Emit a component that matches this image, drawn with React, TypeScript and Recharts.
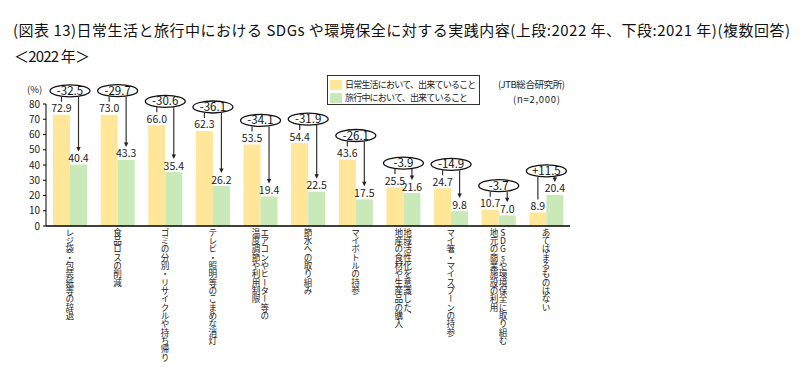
import React from 'react';
import { BarChart, Bar, XAxis, YAxis, Legend, LabelList } from 'recharts';

if (typeof document !== 'undefined') {
  document.body.style.margin = '0';
}

const FONT = '"Noto Sans CJK JP", "Noto Sans", sans-serif';

const categories = [
  'レジ袋・包装紙等の辞退',
  '食品ロスの削減',
  'ゴミの分別・リサイクルや持ち帰り',
  'テレビ・照明等のこまめな消灯',
  'エアコンやヒーター等の\n温度調節や利用制限',
  '節水への取り組み',
  'マイボトルの持参',
  '地域活性化を意識した、\n地産の食材や生産品の購入',
  'マイ箸・マイスプーンの持参',
  'SDGsや環境保全に取り組む\n地元の商業施設の利用',
  'あてはまるものはない',
];

const dailyValues = [72.9, 73.0, 66.0, 62.3, 53.5, 54.4, 43.6, 25.5, 24.7, 10.7, 8.9];
const travelValues = [40.4, 43.3, 35.4, 26.2, 19.4, 22.5, 17.5, 21.6, 9.8, 7.0, 20.4];
const diffLabels = ['-32.5', '-29.7', '-30.6', '-36.1', '-34.1', '-31.9', '-26.1', '-3.9', '-14.9', '-3.7', '+11.5'];
const yTicks = [0, 10, 20, 30, 40, 50, 60, 70, 80];

const seriesNames = ['日常生活において、出来ていること', '旅行中において、出来ていること'];
const YELLOW = '#FFE699';
const GREEN = '#C9E9B9';

const data = categories.map((name, i) => ({
  name,
  daily: dailyValues[i],
  travel: travelValues[i],
  diff: diffLabels[i],
}));

const XTick = (props: any) => {
  const { x, y, payload } = props;
  const lines: string[] = String(payload.value).split('\n');
  const n = lines.length;
  const pitch = 8.8;
  return (
    <g>
      {lines.map((l, i) => (
        <text
          key={i}
          x={x + ((n - 1) / 2 - i) * pitch}
          y={y}
          fontSize={8.6}
          fill="#222"
          fontFamily={FONT}
          style={{ writingMode: 'vertical-rl', textOrientation: 'upright', letterSpacing: '-0.25px' } as any}
        >
          {l}
        </text>
      ))}
    </g>
  );
};

const findIndex = (props: any) => {
  if (typeof props.index === 'number') return props.index;
  const v = Number(props.value);
  return travelValues.findIndex((t) => Math.abs(t - v) < 1e-9);
};

const Annotation = (props: any) => {
  const vb = props.viewBox || {};
  const x = Number(props.x ?? vb.x);
  const y = Number(props.y ?? vb.y);
  const width = Number(props.width ?? vb.width);
  const height = Number(props.height ?? vb.height);
  const idx = findIndex(props);
  if (idx < 0 || !isFinite(x)) return null;
  const g = travelValues[idx];
  const d = dailyValues[idx];
  const base = y + height;
  const perUnit = height / g;
  const gTop = y;
  const yTop = base - d * perUnit;
  const xg = x + width / 2;
  const xy = x - width / 2;
  const gc = x;
  const rx = 20;
  const ry = 6;
  const cy = Math.min(gTop, yTop) - 24;
  const tip = gTop - 13;
  return (
    <g>
      <line x1={xy} y1={cy + ry} x2={xy} y2={yTop - 13} stroke="#333" strokeWidth={1.2} />
      <line x1={xg} y1={cy + ry} x2={xg} y2={tip - 3} stroke="#333" strokeWidth={1.2} />
      <polygon points={`${xg - 2.2},${tip - 4.5} ${xg + 2.2},${tip - 4.5} ${xg},${tip}`} fill="#222" />
      <ellipse cx={gc} cy={cy} rx={rx} ry={ry} fill="#fff" stroke="#111" strokeWidth={1.3} />
      <text x={gc} y={cy + 4} textAnchor="middle" fontSize={11.5} fill="#111" fontFamily={FONT}>
        {diffLabels[idx]}
      </text>
    </g>
  );
};

const renderLegend = (props: any) => {
  const payload = props.payload || [];
  return (
    <div
      style={{
        border: '1px solid #333',
        width: 153,
        height: 30,
        boxSizing: 'border-box',
        padding: '2px 0 0 2px',
        fontFamily: FONT,
        fontSize: 9,
        color: '#222',
        background: '#fff',
      }}
    >
      {payload.map((e: any, i: number) => (
        <div key={i} style={{ display: 'flex', alignItems: 'center', height: 13, whiteSpace: 'nowrap' }}>
          <span style={{ display: 'inline-block', width: 12, height: 10, background: e.color, marginRight: 3 }} />
          <span style={{ letterSpacing: '-0.8px' }}>{e.value}</span>
        </div>
      ))}
    </div>
  );
};

export default function App() {
  return (
    <div style={{ position: 'relative', width: 800, height: 371, background: '#fff' }}>
      <BarChart
        width={800}
        height={371}
        data={data}
        margin={{ top: 104, right: 230, bottom: 0, left: 6 }}
        barGap={0}
      >
        <XAxis
          dataKey="name"
          interval={0}
          tick={<XTick />}
          tickLine={false}
          tickSize={0}
          tickMargin={2}
          height={145}
          axisLine={{ stroke: '#000', strokeWidth: 1.5 }}
        />
        <YAxis
          domain={[0, 80]}
          ticks={yTicks}
          width={40}
          interval={0}
          tickSize={3}
          tickMargin={3}
          axisLine={{ stroke: '#000', strokeWidth: 1 }}
          tickLine={{ stroke: '#000' }}
          tick={{ fontSize: 10, fill: '#222', fontFamily: FONT }}
        />
        <Legend
          layout="vertical"
          align="center"
          verticalAlign="middle"
          itemSorter="dataKey"
          content={renderLegend}
          wrapperStyle={{ top: 75, left: 327, width: 153, height: 30 }}
        />
        <Bar dataKey="daily" name={seriesNames[0]} fill={YELLOW} barSize={17} isAnimationActive={false}>
          <LabelList dataKey="daily" position="top" offset={2.5} fontSize={10.5} fill="#222" fontFamily={FONT} formatter={(v: any) => Number(v).toFixed(1)} />
        </Bar>
        <Bar dataKey="travel" name={seriesNames[1]} fill={GREEN} barSize={17} isAnimationActive={false}>
          <LabelList dataKey="travel" position="top" offset={2.5} fontSize={10.5} fill="#222" fontFamily={FONT} formatter={(v: any) => Number(v).toFixed(1)} />
          <LabelList dataKey="travel" content={<Annotation />} />
        </Bar>
      </BarChart>
      <svg
        width={800}
        height={371}
        style={{ position: 'absolute', left: 0, top: 0, pointerEvents: 'none' }}
        fontFamily={FONT}
      >
        <text x={13} y={35.5} fontSize={15} fill="#111" textLength={777} lengthAdjust="spacing">
          (図表 13)日常生活と旅行中における SDGs や環境保全に対する実践内容(上段:2022 年、下段:2021 年)(複数回答)
        </text>
        <text x={14} y={62} fontSize={15} fill="#111" textLength={76} lengthAdjust="spacing">
          ＜2022 年＞
        </text>
        <text x={27} y={92.5} fontSize={9.5} fill="#222">(%)</text>
        <text x={498} y={87.5} fontSize={9.5} fill="#222" textLength={67} lengthAdjust="spacing">(JTB総合研究所)</text>
        <text x={513} y={102.5} fontSize={9.5} fill="#222" textLength={47} lengthAdjust="spacing">(n=2,000)</text>
      </svg>
    </div>
  );
}
